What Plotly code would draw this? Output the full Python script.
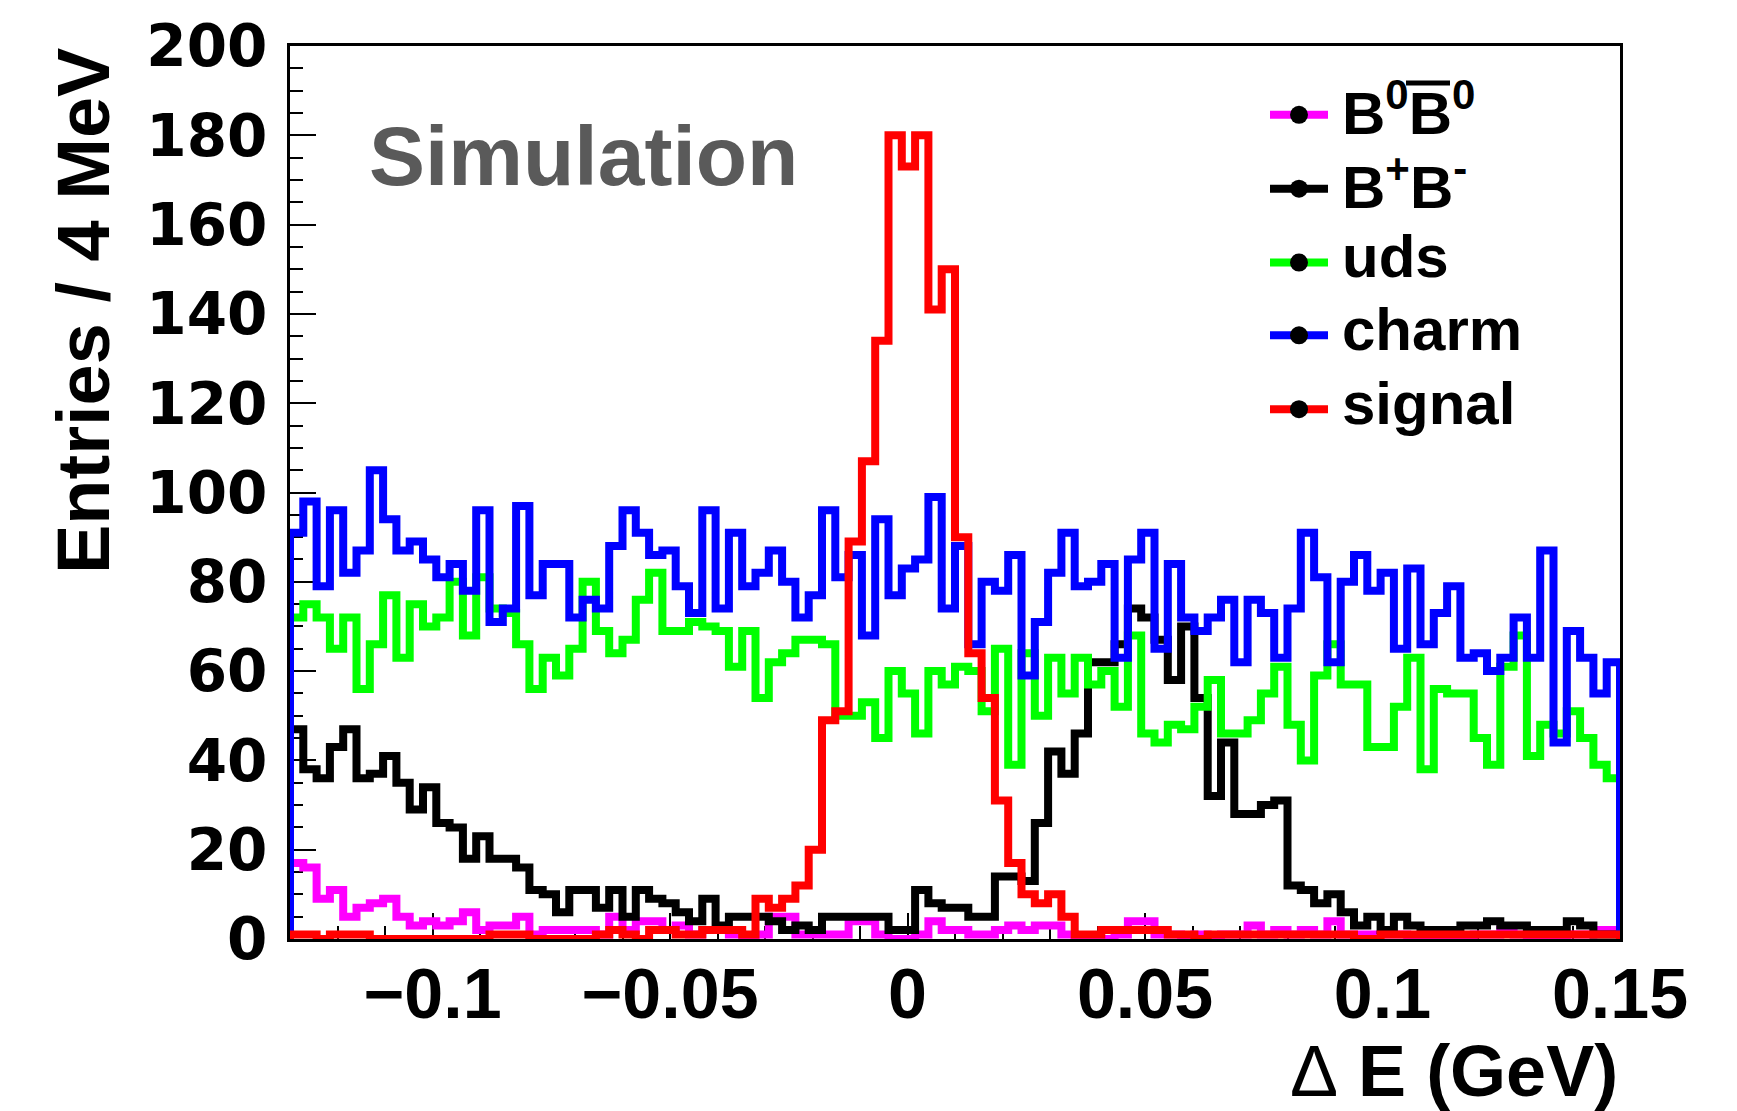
import numpy as np
import plotly.graph_objects as go

# ---------------- data (entries per bin, 100 bins from -0.13 to 0.15 GeV) ----------------
X_MIN = -0.13
X_MAX = 0.15
N_BINS = 100

b0b0bar = [17, 16, 9, 11, 5, 7, 8, 9, 5, 3, 4, 3, 4, 6, 2, 3, 3, 5, 1, 2,
           2, 2, 2, 1, 5, 2, 4, 4, 2, 3, 1, 2, 2, 1, 0, 1, 5, 5, 1, 1,
           1, 1, 4, 4, 1, 0, 0, 1, 4, 2, 2, 1, 1, 2, 3, 2, 3, 3, 1, 0,
           0, 0, 1, 4, 4, 1, 1, 0, 1, 0, 1, 1, 3, 1, 2, 1, 2, 1, 4, 1,
           1, 1, 1, 1, 0, 0, 0, 0, 0, 1, 1, 2, 1, 0, 0, 0, 1, 1, 2, 2]

bplusbminus = [47, 38, 36, 43, 47, 36, 37, 41, 35, 29, 34, 26, 25, 18, 23, 18, 18, 16, 11, 10,
               6, 11, 11, 7, 11, 5, 11, 9, 8, 6, 4, 9, 3, 5, 5, 5, 4, 2, 3, 2,
               5, 5, 5, 5, 5, 2, 2, 11, 8, 7, 7, 5, 5, 14, 14, 13, 26, 42, 37, 46,
               62, 62, 66, 74, 72, 67, 58, 70, 54, 32, 44, 28, 28, 30, 31, 12, 11, 8, 10, 6,
               3, 5, 2, 5, 3, 2, 2, 2, 3, 3, 4, 3, 3, 2, 2, 2, 4, 3, 1, 1]

uds = [72, 75, 72, 65, 72, 56, 66, 77, 63, 75, 70, 72, 80, 68, 81, 74, 73, 66, 56, 63,
       59, 65, 80, 69, 64, 67, 76, 82, 69, 69, 71, 70, 69, 61, 69, 54, 62, 64, 67, 67,
       66, 50, 50, 53, 45, 60, 55, 46, 60, 57, 61, 60, 51, 65, 39, 64, 50, 63, 55, 63,
       57, 60, 52, 68, 46, 44, 48, 47, 52, 58, 46, 46, 49, 55, 61, 48, 40, 59, 66, 57,
       57, 43, 43, 52, 63, 38, 56, 55, 55, 45, 39, 61, 68, 41, 48, 46, 51, 45, 39, 36]

charm = [91, 98, 79, 96, 82, 87, 105, 94, 87, 89, 85, 81, 84, 78, 96, 71, 74, 97, 77, 84,
         84, 72, 76, 74, 88, 96, 91, 86, 87, 79, 73, 96, 74, 91, 79, 82, 87, 80, 72, 77,
         96, 81, 86, 68, 94, 77, 83, 85, 99, 74, 88, 66, 80, 78, 86, 59, 71, 82, 91, 79,
         80, 84, 63, 85, 91, 65, 84, 72, 69, 72, 76, 62, 76, 73, 63, 74, 91, 81, 62, 80,
         86, 78, 82, 65, 83, 66, 73, 79, 63, 64, 60, 63, 72, 63, 87, 44, 69, 63, 55, 62]

signal = [1, 1, 0, 1, 1, 1, 0, 0, 0, 0, 0, 0, 0, 0, 0, 1, 1, 1, 0, 0,
          0, 0, 0, 1, 2, 1, 0, 2, 2, 1, 1, 2, 2, 2, 1, 9, 7, 9, 12, 20,
          49, 51, 89, 107, 134, 180, 173, 180, 141, 150, 90, 64, 54, 31, 17, 10, 8, 10, 5, 1,
          1, 2, 2, 2, 2, 2, 1, 1, 0, 1, 1, 1, 1, 1, 1, 1, 1, 1, 1, 1,
          0, 0, 1, 1, 1, 1, 1, 1, 1, 1, 1, 1, 1, 1, 1, 1, 1, 1, 1, 1]

series_names = ["B0B0bar", "B+B-", "uds", "charm", "signal"]
series_values = [b0b0bar, bplusbminus, uds, charm, signal]
series_colors = ["#ff00ff", "#000000", "#00ff00", "#0000ff", "#ff0000"]
legend_labels = ["B<sup>0</sup>B<sup>0</sup>", "B<sup>+</sup>B<sup>-</sup>", "uds", "charm", "signal"]

y_ticks = list(range(0, 201, 20))

# ---------------- figure ----------------
W, H = 1737, 1111
ML, MR, MT, MB = 290, 117, 44, 172
PW, PH = W - ML - MR, H - MT - MB

edges = np.linspace(X_MIN, X_MAX, N_BINS + 1)


def px_to_paper_x(px):
    return (px - ML) / PW


def px_to_paper_y(py):
    return (H - MB - py) / PH


fig = go.Figure()
for name, vals, col in zip(series_names, series_values, series_colors):
    xs = np.concatenate([[edges[0]], edges])
    ys = np.concatenate([[0], vals, [0]])
    fig.add_trace(go.Scatter(x=xs, y=ys, mode="lines", line=dict(color=col, width=8, shape="hv"),
                             name=name, showlegend=False, hoverinfo="skip"))

BOLD = "Liberation Sans"

fig.update_layout(
    width=W, height=H,
    margin=dict(l=ML, r=MR, t=MT, b=MB, pad=0),
    paper_bgcolor="white", plot_bgcolor="white",
    showlegend=False,
    xaxis=dict(range=[X_MIN, X_MAX], showline=True, linecolor="black", linewidth=3, mirror=True,
               ticks="inside", ticklen=26, tickwidth=2, tickcolor="black",
               tick0=0, dtick=0.05, showgrid=False, zeroline=False,
               minor=dict(dtick=0.01, ticks="inside", ticklen=13, tickwidth=2, tickcolor="black", showgrid=False),
               tickfont=dict(family=BOLD, size=70, color="black", weight="bold"),
               ticklabelstandoff=-8, layer="below traces"),
    yaxis=dict(range=[0, 200], showline=True, linecolor="black", linewidth=3, mirror=True,
               ticks="inside", ticklen=26, tickwidth=2, tickcolor="black",
               tickvals=y_ticks, ticktext=[str(v) for v in y_ticks],
               showgrid=False, zeroline=False,
               minor=dict(dtick=5, ticks="inside", ticklen=13, tickwidth=2, tickcolor="black", showgrid=False),
               tickfont=dict(family="DejaVu Sans", size=58, color="black", weight="bold"),
               ticklabelstandoff=8, layer="below traces"),
)

annotations = []
shapes = []

# axis titles
annotations.append(dict(text="Entries / 4 MeV", xref="paper", yref="paper",
                        x=px_to_paper_x(83), y=1.0, xanchor="center", yanchor="top",
                        textangle=-90, showarrow=False,
                        font=dict(family=BOLD, size=74, color="black", weight="bold")))
annotations.append(dict(text="Δ<b> E (GeV)</b>", xref="paper", yref="paper",
                        x=1.0, y=px_to_paper_y(1071), xanchor="right", yanchor="middle",
                        showarrow=False, font=dict(family=BOLD, size=72, color="black")))
# Simulation label
annotations.append(dict(text="Simulation", xref="paper", yref="paper",
                        x=px_to_paper_x(367), y=px_to_paper_y(154), xanchor="left", yanchor="middle",
                        showarrow=False, font=dict(family=BOLD, size=84, color="#5a5a5a", weight="bold")))

# manual legend
row_line_y = [113, 187, 261, 334, 408]
for lab, col, ly in zip(legend_labels, series_colors, row_line_y):
    shapes.append(dict(type="line", xref="paper", yref="paper",
                       x0=px_to_paper_x(1270), x1=px_to_paper_x(1328),
                       y0=px_to_paper_y(ly), y1=px_to_paper_y(ly),
                       line=dict(color=col, width=8), layer="above"))
    shapes.append(dict(type="circle", xref="paper", yref="paper", xsizemode="pixel", ysizemode="pixel",
                       xanchor=px_to_paper_x(1299), yanchor=px_to_paper_y(ly),
                       x0=-9, x1=9, y0=-9, y1=9, fillcolor="black", line=dict(color="black", width=0),
                       layer="above"))
    annotations.append(dict(text=lab, xref="paper", yref="paper",
                            x=px_to_paper_x(1340), y=px_to_paper_y(ly - 6), xanchor="left", yanchor="middle",
                            showarrow=False,
                            font=dict(family=BOLD, size=60, color="black", weight="bold")))

# overline of the anti-B
shapes.append(dict(type="line", xref="paper", yref="paper",
                   x0=px_to_paper_x(1406), x1=px_to_paper_x(1450),
                   y0=px_to_paper_y(81), y1=px_to_paper_y(81),
                   line=dict(color="black", width=5), layer="above"))

fig.update_layout(annotations=annotations, shapes=shapes)
fig.write_html("out.html")
